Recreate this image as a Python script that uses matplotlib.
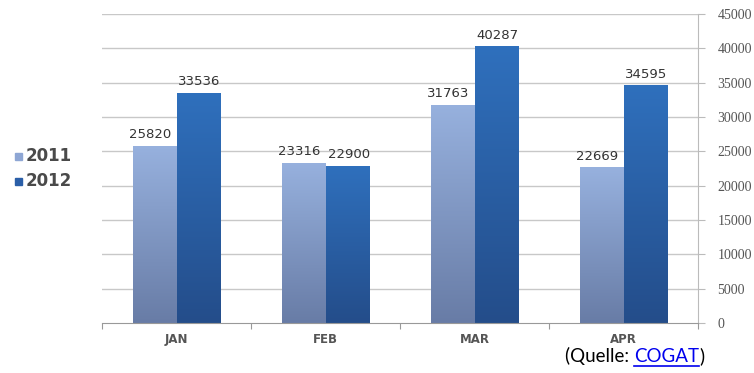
import numpy as np
import matplotlib
matplotlib.use("Agg")
import matplotlib.pyplot as plt
from matplotlib.colors import LinearSegmentedColormap
from matplotlib.lines import Line2D

categories = ["JAN", "FEB", "MAR", "APR"]
series_names = ["2011", "2012"]
values_2011 = [25820, 23316, 31763, 22669]
values_2012 = [33536, 22900, 40287, 34595]
yticks = [0, 5000, 10000, 15000, 20000, 25000, 30000, 35000, 40000, 45000]

fig = plt.figure(figsize=(7.54, 3.73), dpi=100)
ax = fig.add_axes([102/754, 1 - 323/373, (698-102)/754, (323-14)/373])

x = np.arange(len(categories))
w = 0.29
grads = [
    LinearSegmentedColormap.from_list("g11", ["#687ca6", "#97b1de"]),
    LinearSegmentedColormap.from_list("g12", ["#244d8a", "#2f70bd"]),
]
solid = ["#8aa4d4", "#2b64ac"]
grad = np.linspace(0, 1, 256).reshape(-1, 1)

for si, vals in enumerate([values_2011, values_2012]):
    offs = (si - 0.5) * w
    bars = ax.bar(x + offs, vals, width=w, color=solid[si], zorder=2, label=series_names[si])
    for b, v in zip(bars, vals):
        x0 = b.get_x()
        im = ax.imshow(grad, cmap=grads[si], aspect="auto", origin="lower",
                       extent=[x0, x0 + w, 0, v], zorder=2.5)
        im.set_clip_path(b)
        ax.text(x0 + w / 2 - (0.03 if si == 0 else -0.01), v + 700, f"{v}", ha="center", va="bottom",
                fontsize=9.5, color="#333333", family="DejaVu Sans", zorder=3)

ax.set_xlim(-0.5, 3.5)
ax.set_ylim(0, 45000)

for t in yticks[1:]:
    ax.axhline(t, color="#c8c8c8", lw=1, zorder=1)

for s in ["top", "left"]:
    ax.spines[s].set_visible(False)
ax.spines["bottom"].set_color("#999999")
ax.spines["right"].set_color("#bbbbbb")

ax.yaxis.tick_right()
ax.set_yticks(yticks)
ax.set_yticklabels([str(t) for t in yticks], fontsize=10, color="#555555", family="Liberation Serif")
ax.tick_params(axis="y", length=5, color="#bbbbbb", pad=9)

ax.set_xticks(np.arange(-0.5, 4.0, 1.0), minor=False)
ax.set_xticklabels([])
ax.tick_params(axis="x", length=4, color="#999999", direction="out")
for i, c in enumerate(categories):
    ax.text(i, -1500, c, ha="center", va="top", fontsize=8.5, color="#555555", fontweight="bold")

# legend
for si, name in enumerate(series_names):
    yy = 1 - (156 + si * 25) / 373
    fig.patches.append(plt.Rectangle((15/754, yy - 4/373), 7/754, 7/373,
                                     transform=fig.transFigure, color=["#8ea6d4", "#2b5fa8"][si]))
    fig.text(26/754, yy, name, fontsize=12, color="#4a4a4a", va="center", ha="left", fontweight="bold")

# source
fig.canvas.draw()
r = fig.canvas.get_renderer()
ybase = 1 - 356/373
fs = 13.5
t1 = fig.text(565/754, ybase, "(Quelle: ", fontsize=fs, color="black", family="Lato", va="center")
bb1 = t1.get_window_extent(r)
t2 = fig.text(bb1.x1/754, ybase, "COGAT", fontsize=fs, color="#0000ee", family="Lato", va="center")
bb2 = t2.get_window_extent(r)
t3 = fig.text(bb2.x1/754, ybase, ")", fontsize=fs, color="black", family="Lato", va="center")
uy = 1 - 366/373
ln = Line2D([bb2.x0/754, bb2.x1/754], [uy, uy], color="#0000ee", lw=1.2, zorder=10)
ln.set_transform(fig.transFigure)
fig.lines.append(ln)

fig.savefig("out.png", dpi=100)
